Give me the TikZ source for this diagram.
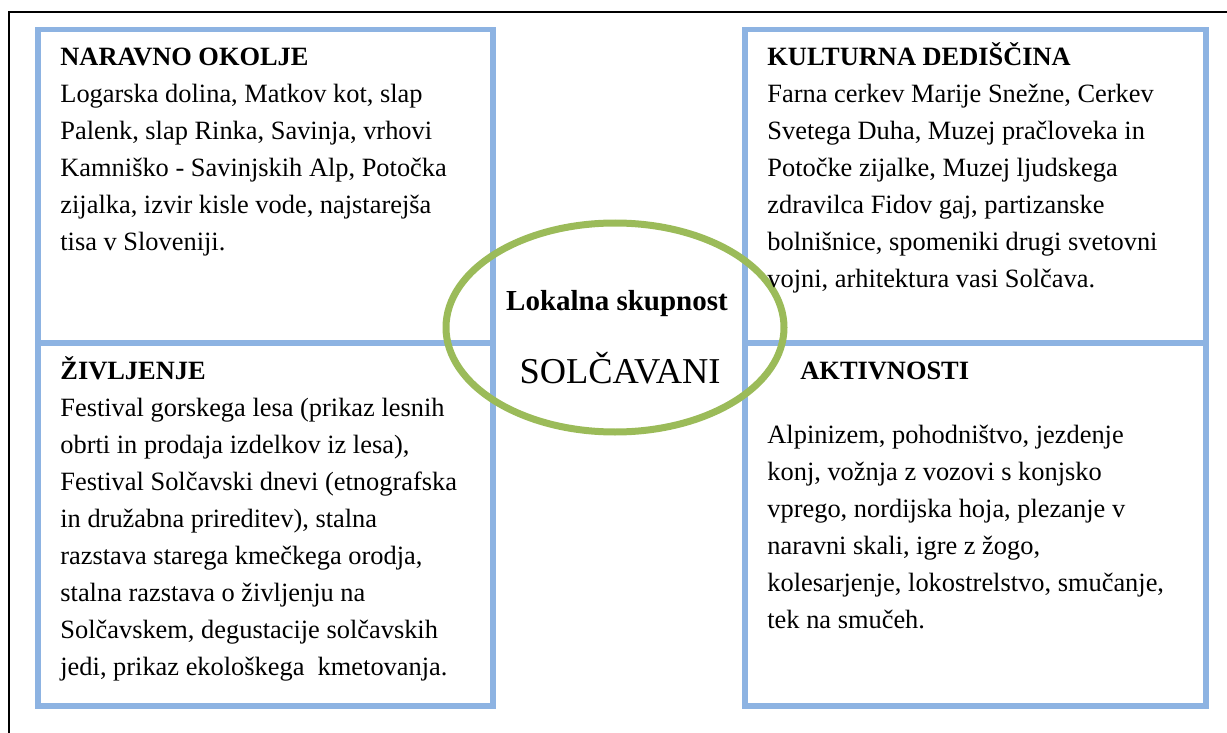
\documentclass[tikz,border=0pt]{standalone}
\usepackage{fontspec}
\setmainfont{Liberation Serif}
\definecolor{modra}{HTML}{8DB3E2}
\definecolor{zelena}{HTML}{9BBB59}
\begin{document}
\begin{tikzpicture}[x=0.5pt, y=-0.5pt,
    okvir/.style={draw=modra, line width=2.8pt},
    obroc/.style={draw=zelena, line width=3.5pt},
    besedilo/.style={anchor=base west, align=left, inner sep=0pt,
      font=\fontsize{13.2}{18.5}\selectfont}]
    \useasboundingbox (0,0) rectangle (1227,733);

    % Zunanji okvir
    \draw [line width=1pt] (1227,12) -- (9,12) -- (9,733);

    % Stirje okvirji (modri)
    \draw [okvir] (38,29.5) rectangle (493,343);
    \draw [okvir] (38,343) rectangle (493,706);
    \draw [okvir] (745,29.5) rectangle (1206,343);
    \draw [okvir] (745,343) rectangle (1206,706);

    % Elipsa (zelena)
    \draw [obroc] (615,327.5) ellipse [x radius=169, y radius=104.5];

    % Naravno okolje (tocka = osnovnica zadnje vrstice)
    \node [besedilo] (naravno) at (60,250) {\textbf{NARAVNO OKOLJE}\\
      Logarska dolina, Matkov kot, slap\\
      Palenk, slap Rinka, Savinja, vrhovi\\
      Kamniško - Savinjskih Alp, Potočka\\
      zijalka, izvir kisle vode, najstarejša\\
      tisa v Sloveniji.};

    % Kulturna dediscina
    \node [besedilo] (kultura) at (767,287) {\textbf{KULTURNA DEDIŠČINA}\\
      Farna cerkev Marije Snežne, Cerkev\\
      Svetega Duha, Muzej pračloveka in\\
      Potočke zijalke, Muzej ljudskega\\
      zdravilca Fidov gaj, partizanske\\
      bolnišnice, spomeniki drugi svetovni\\
      vojni, arhitektura vasi Solčava.};

    % Zivljenje
    \node [besedilo] (zivljenje) at (60,675) {\textbf{ŽIVLJENJE}\\
      Festival gorskega lesa (prikaz lesnih\\
      obrti in prodaja izdelkov iz lesa),\\
      Festival Solčavski dnevi (etnografska\\
      in družabna prireditev), stalna\\
      razstava starega kmečkega orodja,\\
      stalna razstava o življenju na\\
      Solčavskem, degustacije solčavskih\\
      jedi, prikaz ekološkega~ kmetovanja.};

    % Aktivnosti
    \node [besedilo] (aktivnosti) at (800,379) {\textbf{AKTIVNOSTI}};
    \node [besedilo] (seznam) at (767,628) {Alpinizem, pohodništvo, jezdenje\\
      konj, vožnja z vozovi s konjsko\\
      vprego, nordijska hoja, plezanje v\\
      naravni skali, igre z žogo,\\
      kolesarjenje, lokostrelstvo, smučanje,\\
      tek na smučeh.};

    % Sredina
    \node [anchor=base, inner sep=0pt, font=\fontsize{14.5}{17}\selectfont\bfseries]
      (skupnost) at (617,310) {Lokalna skupnost};
    \node [anchor=base, inner sep=0pt, font=\fontsize{18.2}{21}\selectfont]
      (solcavani) at (620,383) {SOLČAVANI};
\end{tikzpicture}
\end{document}
